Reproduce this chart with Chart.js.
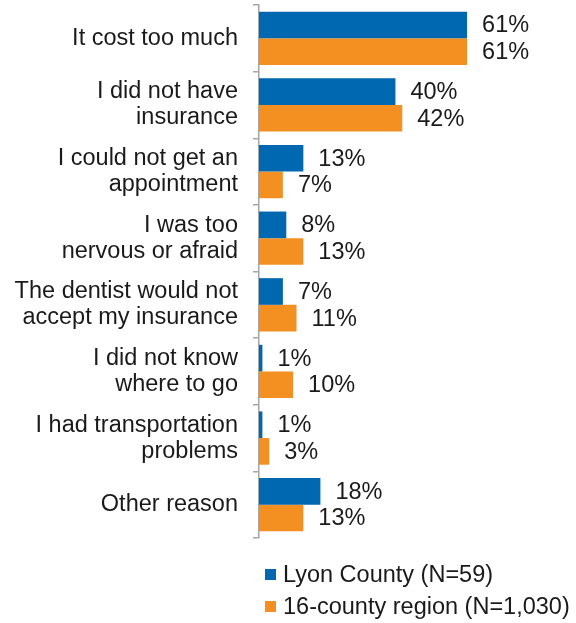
<!DOCTYPE html>
<html>
<head>
<meta charset="utf-8">
<script src="https://cdn.jsdelivr.net/npm/chart.js@4.4.0/dist/chart.umd.min.js"></script>
<style>
  html, body { margin: 0; padding: 0; background: #fff; }
  #wrap { width: 576px; height: 623px; }
</style>
</head>
<body>
<div id="wrap"><canvas id="grafico"></canvas></div>
<script>
const categorias = [
  "It cost too much",
  ["I did not have", "insurance"],
  ["I could not get an", "appointment"],
  ["I was too", "nervous or afraid"],
  ["The dentist would not", "accept my insurance"],
  ["I did not know", "where to go"],
  ["I had transportation", "problems"],
  "Other reason"
];
const lyonCounty = [61, 40, 13, 8, 7, 1, 1, 18];
const regiao = [61, 42, 7, 13, 11, 10, 3, 13];
const nomesSeries = ["Lyon County (N=59)", "16-county region (N=1,030)"];
const cores = ["#0067B1", "#F39021"];

const fonte = "Arial, 'Liberation Sans', sans-serif";
const tamanho = 23.5;

// rótulos com percentagem no fim de cada barra
const rotulosBarras = {
  id: 'rotulosBarras',
  afterDatasetsDraw(chart) {
    const c = chart.ctx;
    c.save();
    c.font = tamanho + "px " + fonte;
    c.fillStyle = "#1a1a1a";
    c.textAlign = "left";
    c.textBaseline = "middle";
    chart.data.datasets.forEach((ds, i) => {
      chart.getDatasetMeta(i).data.forEach((bar, j) => {
        c.fillText(ds.data[j] + "%", bar.x + 15, bar.y + 1);
      });
    });
    c.restore();
  }
};

// legenda em coluna, por baixo do gráfico
const legendaColuna = {
  id: 'legendaColuna',
  afterDraw(chart) {
    const c = chart.ctx;
    c.save();
    c.font = tamanho + "px " + fonte;
    c.textBaseline = "middle";
    c.textAlign = "left";
    chart.data.datasets.forEach((ds, i) => {
      const y = 575 + i * 32;
      c.fillStyle = ds.backgroundColor;
      c.fillRect(265, y - 6, 11, 11);
      c.fillStyle = "#1a1a1a";
      c.fillText(ds.label, 283, y + 1);
    });
    c.restore();
  }
};

new Chart(document.getElementById('grafico'), {
  type: 'bar',
  data: {
    labels: categorias,
    datasets: [
      { label: nomesSeries[0], data: lyonCounty, backgroundColor: cores[0] },
      { label: nomesSeries[1], data: regiao, backgroundColor: cores[1] }
    ]
  },
  options: {
    indexAxis: 'y',
    responsive: true,
    maintainAspectRatio: false,
    animation: false,
    categoryPercentage: 0.8,
    barPercentage: 1.0,
    layout: { padding: { top: 5, bottom: 85, left: 0, right: 10 } },
    plugins: {
      legend: { display: false },
      tooltip: { enabled: false }
    },
    scales: {
      x: {
        display: false,
        min: 0,
        max: 90
      },
      y: {
        afterFit: (s) => {
          s.width = 259;
          s.paddingTop = 0;
          s.paddingBottom = 0;
        },
        border: { display: true, color: "#a6a6a6", width: 1.5 },
        grid: {
          offset: true,
          drawOnChartArea: false,
          drawTicks: true,
          tickLength: 6,
          color: "#a6a6a6",
          lineWidth: 1.5
        },
        ticks: {
          color: "#1a1a1a",
          padding: 15,
          font: { family: fonte, size: tamanho, lineHeight: 1.11 }
        }
      }
    }
  },
  plugins: [rotulosBarras, legendaColuna]
});
</script>
</body>
</html>
